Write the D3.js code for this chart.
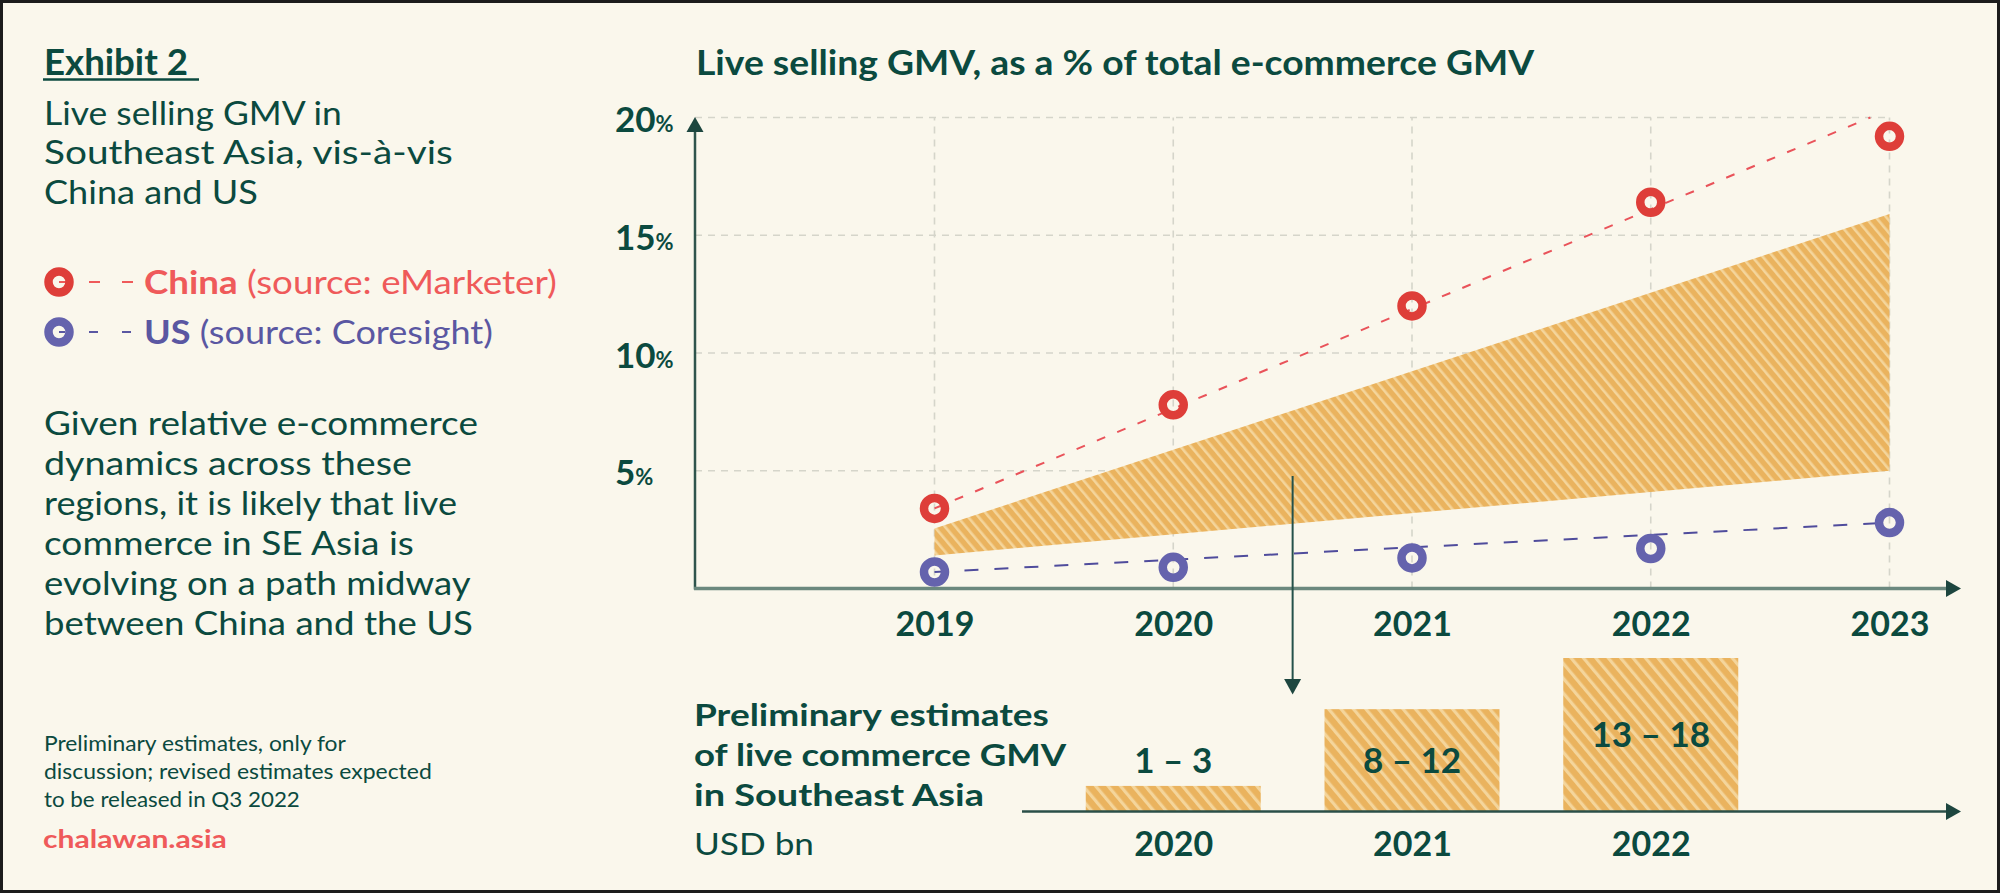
<!DOCTYPE html>
<html><head><meta charset="utf-8">
<script src="https://cdn.jsdelivr.net/npm/d3@7"></script>
<style>html,body{margin:0;padding:0;background:#faf7ec;} svg{display:block;} text{font-family:Lato,"Open Sans",sans-serif;}</style>
</head><body><svg id="c" width="2000" height="893"></svg>
<script>
// ---- data ----
const years = [2019, 2020, 2021, 2022, 2023];
const chinaShare = [3.4, 7.8, 12.0, 16.4, 19.2];
const usShare = [0.7, 0.9, 1.3, 1.7, 2.8];
const chinaTrendYears = [2019, 2022.92];
const chinaTrendValues = [3.4, 20.0];
const usTrendYears = [2019, 2023];
const usTrendValues = [0.7, 2.8];
const seaBandYears = [2019, 2023];
const seaBandLow = [1.4, 5.0];
const seaBandHigh = [2.55, 15.9];
const yTicks = [5, 10, 15, 20];
const gmvYears = [2020, 2021, 2022];
const gmvLow = [1, 8, 13];
const gmvHigh = [3, 12, 18];
const calloutYear = 2020.5;

const titleLines = ["Live selling GMV in", "Southeast Asia, vis-à-vis", "China and US"];
const paraLines = ["Given relative e-commerce", "dynamics across these", "regions, it is likely that live",
  "commerce in SE Asia is", "evolving on a path midway", "between China and the US"];
const noteLines = ["Preliminary estimates, only for", "discussion; revised estimates expected", "to be released in Q3 2022"];
const subLines = ["Preliminary estimates", "of live commerce GMV", "in Southeast Asia"];

// ---- style ----
const BG = "#faf7ec", DARK = "#0b4a3f", RED_T = "#ef5a5a", RED_M = "#de3e39", PUR_T = "#5a57a2", PUR_M = "#6563ad";

const svg = d3.select("#c");
svg.append("rect").attr("x", 1.5).attr("y", 1.5).attr("width", 1997).attr("height", 890)
  .attr("fill", BG).attr("stroke", "#1c1c1c").attr("stroke-width", 3);

const defs = svg.append("defs");
function hatch(id, period, stripe) {
  const p = defs.append("pattern").attr("id", id).attr("patternUnits", "userSpaceOnUse")
    .attr("width", period).attr("height", period).attr("patternTransform", "rotate(-40)");
  p.append("rect").attr("width", period).attr("height", period).attr("fill", "#eab35e");
  p.append("rect").attr("x", 0).attr("width", stripe).attr("height", period).attr("fill", "#f4d59b");
}
hatch("hatchBand", 8, 2.6);
hatch("hatchBar", 9.5, 3.2);

function stretch(sel, target, ax) {
  const w = sel.node().getBBox().width;
  if (w > 0) sel.attr("transform", `translate(${ax},0) scale(${target / w},1) translate(${-ax},0)`);
}
function txt(x, y, s, size, weight, color, target, anchor) {
  const t = svg.append("text").attr("x", x).attr("y", y).attr("font-size", size)
    .attr("font-weight", weight).attr("fill", color).attr("text-anchor", anchor || "start").text(s);
  if (target) stretch(t, target, x);
  return t;
}

// ---- left panel ----
txt(44, 75, "Exhibit 2", 36, 700, DARK, 144);
svg.append("line").attr("x1", 43).attr("x2", 199).attr("y1", 79.5).attr("y2", 79.5)
  .attr("stroke", DARK).attr("stroke-width", 2.5);
const titleW = [298, 409, 214];
titleLines.forEach((s, i) => txt(44, 125 + i * 39.5, s, 32.5, 400, DARK, titleW[i]));

// legend
const legend = [
  {name: "China", src: " (source: eMarketer)", tc: RED_T, mc: RED_M, y: 282, w: 413, dash: "11 22"},
  {name: "US", src: " (source: Coresight)", tc: PUR_T, mc: PUR_M, y: 332, w: 349, dash: "9 24"}
];
legend.forEach(l => {
  svg.append("line").attr("x1", 59).attr("x2", 133).attr("y1", l.y).attr("y2", l.y)
    .attr("stroke", l.tc).attr("stroke-width", 2).attr("stroke-dasharray", l.dash).attr("stroke-dashoffset", -30);
  svg.append("circle").attr("cx", 59).attr("cy", l.y).attr("r", 10.5).attr("fill", "none")
    .attr("stroke", l.mc).attr("stroke-width", 8.5);
  const t = svg.append("text").attr("x", 144).attr("y", l.y + 12.5).attr("font-size", 33).attr("fill", l.tc);
  t.append("tspan").attr("font-weight", 700).text(l.name);
  t.append("tspan").attr("font-weight", 400).text(l.src);
  stretch(t, l.w, 144);
});

const paraW = [434, 368, 413, 370, 427, 429];
paraLines.forEach((s, i) => txt(44, 435 + i * 40, s, 32.5, 400, DARK, paraW[i]));
const noteW = [302, 388, 256];
noteLines.forEach((s, i) => txt(44, 751 + i * 28, s, 22, 400, DARK, noteW[i]));
txt(43, 848, "chalawan.asia", 24.5, 700, RED_T, 184);

// ---- main chart ----
const x = d3.scaleLinear().domain([2019, 2023]).range([934.5, 1889.5]);
const y = d3.scaleLinear().domain([0, 20]).range([588.5, 117.5]);
const X0 = 695;

txt(696, 75, "Live selling GMV, as a % of total e-commerce GMV", 33.5, 700, DARK, 839);

const grid = svg.append("g").attr("stroke", "#d5d5ca").attr("stroke-width", 1.6).attr("stroke-dasharray", "7 6");
grid.selectAll("line.h").data(yTicks).join("line").attr("class", "h")
  .attr("x1", X0).attr("x2", x(2023)).attr("y1", d => y(d)).attr("y2", d => y(d));
grid.selectAll("line.v").data(years).join("line").attr("class", "v")
  .attr("x1", d => x(d)).attr("x2", d => x(d)).attr("y1", y(0)).attr("y2", y(20));

// band
const band = seaBandYears.map((yr, i) => ({year: yr, low: seaBandLow[i], high: seaBandHigh[i]}));
svg.append("path").datum(band).attr("fill", "url(#hatchBand)")
  .attr("d", d3.area().x(d => x(d.year)).y0(d => y(d.low)).y1(d => y(d.high)));

// axes
const yAxis = svg.append("g").call(d3.axisLeft(y).tickValues(yTicks).tickSize(0));
yAxis.select(".domain").remove();
yAxis.selectAll("text").each(function(d) {
  const t = d3.select(this).attr("x", 615).attr("y", 14).attr("dy", null).attr("text-anchor", "start")
    .attr("fill", DARK).attr("font-weight", 700).attr("font-size", 35).attr("font-family", "Lato").text(null);
  t.append("tspan").text(d);
  t.append("tspan").attr("font-size", 22).text("%");
});
const xAxis = svg.append("g").attr("transform", `translate(0,${y(0)})`)
  .call(d3.axisBottom(x).tickValues(years).tickFormat(d3.format("d")).tickSize(0));
xAxis.select(".domain").remove();
xAxis.selectAll("text").attr("y", 47).attr("dy", null).attr("fill", DARK).attr("font-weight", 700)
  .attr("font-size", 34).attr("font-family", "Lato");

svg.append("line").attr("x1", X0).attr("x2", X0).attr("y1", y(0) + 1).attr("y2", 131)
  .attr("stroke", "#2f544c").attr("stroke-width", 2.5);
svg.append("path").attr("d", `M${X0},117 L${X0 - 8.5},132 L${X0 + 8.5},132 Z`).attr("fill", "#1d463f");
svg.append("line").attr("x1", X0 - 1).attr("x2", 1947).attr("y1", y(0)).attr("y2", y(0))
  .attr("stroke", "#6b887e").attr("stroke-width", 3.5);
svg.append("path").attr("d", `M1961,${y(0)} L1946,${y(0) - 8.5} L1946,${y(0) + 8.5} Z`).attr("fill", "#1d463f");

// trend lines
const lineGen = d3.line().x(d => x(d[0])).y(d => y(d[1]));
svg.append("path").datum(chinaTrendYears.map((yr, i) => [yr, chinaTrendValues[i]]))
  .attr("d", lineGen).attr("fill", "none").attr("stroke", "#e9535a").attr("stroke-width", 2).attr("stroke-dasharray", "9 13");
svg.append("path").datum(usTrendYears.map((yr, i) => [yr, usTrendValues[i]]))
  .attr("d", lineGen).attr("fill", "none").attr("stroke", "#4f4c9c").attr("stroke-width", 2).attr("stroke-dasharray", "14 16");

// points
svg.append("g").selectAll("circle").data(years.map((yr, i) => [yr, chinaShare[i]])).join("circle")
  .attr("cx", d => x(d[0])).attr("cy", d => y(d[1])).attr("r", 10.5)
  .attr("fill", "none").attr("stroke", RED_M).attr("stroke-width", 8.5);
svg.append("g").selectAll("circle").data(years.map((yr, i) => [yr, usShare[i]])).join("circle")
  .attr("cx", d => x(d[0])).attr("cy", d => y(d[1])).attr("r", 10.5)
  .attr("fill", "none").attr("stroke", PUR_M).attr("stroke-width", 8.5);

// callout arrow
const cx = x(calloutYear);
svg.append("line").attr("x1", cx).attr("x2", cx).attr("y1", 476).attr("y2", 681)
  .attr("stroke", "#24514a").attr("stroke-width", 2);
svg.append("path").attr("d", `M${cx},694.5 L${cx - 8.5},679 L${cx + 8.5},679 Z`).attr("fill", "#1d463f");

// ---- bottom bars ----
const yb = d3.scaleLinear().domain([0, 18]).range([811.5, 658]);
const barW = 175;
const bars = gmvYears.map((yr, i) => ({year: yr, low: gmvLow[i], high: gmvHigh[i]}));
svg.append("g").selectAll("rect").data(bars).join("rect")
  .attr("x", d => x(d.year) - barW / 2).attr("width", barW)
  .attr("y", d => yb(d.high)).attr("height", d => yb(0) - yb(d.high)).attr("fill", "url(#hatchBar)");
svg.append("g").selectAll("text").data(bars).join("text")
  .attr("x", d => x(d.year)).attr("text-anchor", "middle")
  .attr("y", d => (yb(0) - yb(d.high) > 60) ? (yb(d.high) + yb(0)) / 2 + 12.5 : yb(d.high) - 13)
  .attr("font-size", 35).attr("font-weight", 700).attr("fill", DARK)
  .text(d => `${d.low} – ${d.high}`);

svg.append("line").attr("x1", 1022).attr("x2", 1947).attr("y1", yb(0)).attr("y2", yb(0))
  .attr("stroke", "#2a4f48").attr("stroke-width", 2.5);
svg.append("path").attr("d", `M1961,${yb(0)} L1946,${yb(0) - 8.5} L1946,${yb(0) + 8.5} Z`).attr("fill", "#1d463f");

const bAxis = svg.append("g").attr("transform", `translate(0,${yb(0)})`)
  .call(d3.axisBottom(x).tickValues(gmvYears).tickFormat(d3.format("d")).tickSize(0));
bAxis.select(".domain").remove();
bAxis.selectAll("text").attr("y", 44).attr("dy", null).attr("fill", DARK).attr("font-weight", 700)
  .attr("font-size", 34).attr("font-family", "Lato");

const subW = [355, 373, 290];
subLines.forEach((s, i) => txt(694, 726 + i * 40, s, 31, 700, DARK, subW[i]));
txt(694, 855, "USD bn", 31, 400, DARK, 120);
</script></body></html>
